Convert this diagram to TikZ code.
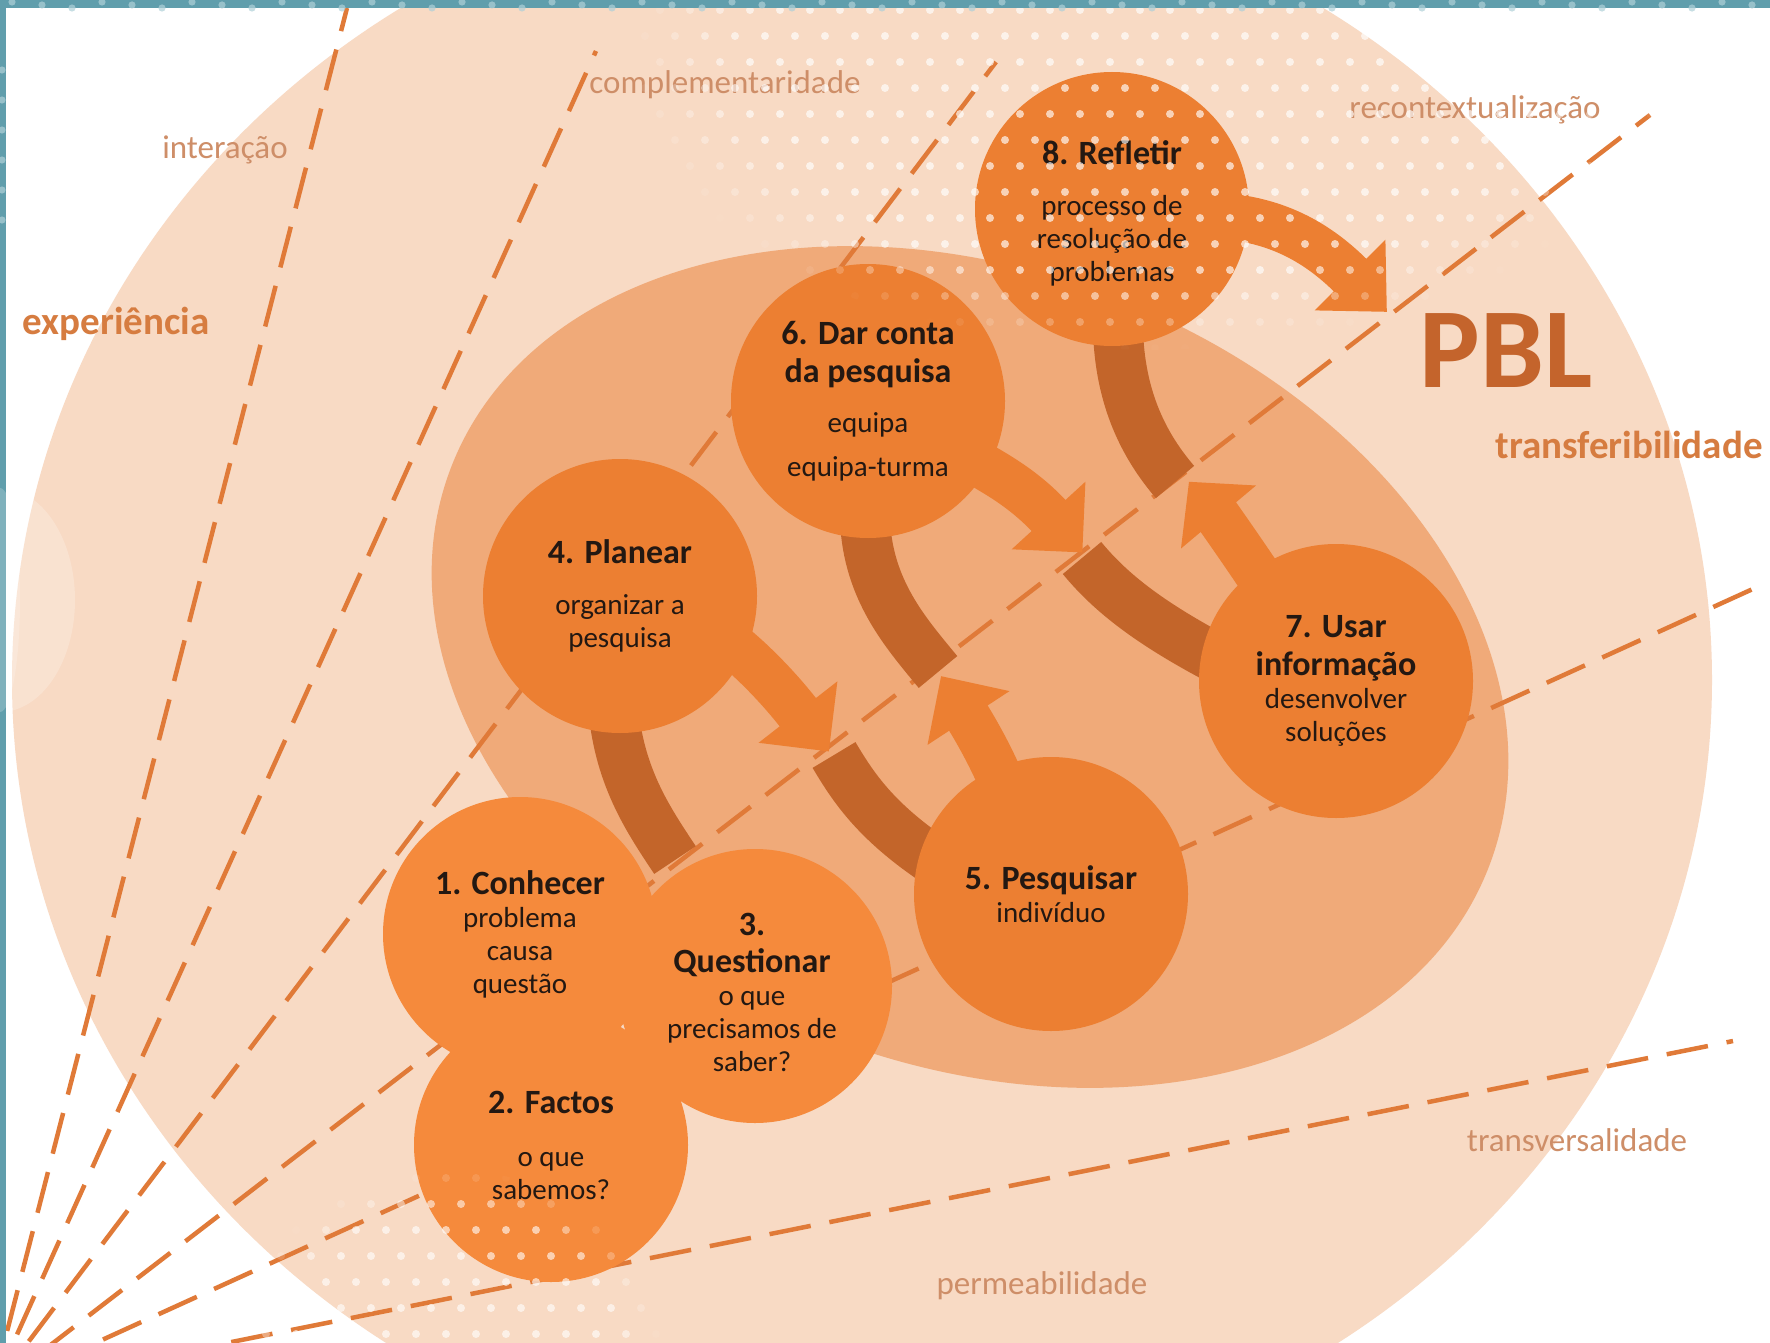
\documentclass[tikz,border=0pt]{standalone}
\usepackage{fontspec}
\setmainfont{Carlito}
\definecolor{framec}{RGB}{96,158,172}
\definecolor{framedot}{RGB}{175,208,216}
\definecolor{outerc}{RGB}{248,218,196}
\definecolor{innerc}{RGB}{240,170,121}
\definecolor{dashc}{RGB}{224,122,56}
\definecolor{circA}{RGB}{236,127,50}
\definecolor{circB}{RGB}{245,138,60}
\definecolor{bandc}{RGB}{195,101,42}
\definecolor{txtc}{RGB}{35,24,18}
\definecolor{lbllight}{RGB}{206,142,104}
\definecolor{lblbold}{RGB}{214,124,64}
\definecolor{pblc}{RGB}{196,100,44}
\newcommand\PTtl[1]{{\fontsize{34}{33}\selectfont\bfseries #1}}
\tikzset{
 dline/.style={draw=dashc, line width=4.5pt, dash pattern=on 42pt off 19pt},
 band/.style={draw=bandc, line width=50pt, line cap=butt},
 shaft/.style={draw=circA, line width=46pt, line cap=butt},
 ahead/.style={fill=circA},
 stepc/.style={circle, minimum size=274pt, inner sep=0pt, fill=circA},
 stepcb/.style={stepc, fill=circB},
 steptxt/.style={align=center, text=txtc, inner sep=0pt, font=\fontsize{29}{33}\selectfont},
 lbl/.style={inner sep=0pt, text=lbllight, font=\fontsize{33}{36}\selectfont},
 lblb/.style={inner sep=0pt, text=lblbold, font=\fontsize{39}{42}\selectfont\bfseries},
 pbl/.style={inner sep=0pt, text=pblc, font=\fontsize{114}{120}\selectfont\bfseries},
}
\begin{document}
\begin{tikzpicture}[x=1pt,y=-1pt]
\useasboundingbox (0,0) rectangle (1770,1343);
\fill[white] (0,0) rectangle (1770,1343);
% outer and inner fields
\fill[outerc] (862,680) ellipse [x radius=850, y radius=800];
\fill[white, opacity=0.22] (0,600) ellipse [x radius=75, y radius=112];
\fill[innerc, rotate around={-21:(970,667)}] (970,667) ellipse [x radius=556, y radius=397];

% dashed rays
\coordinate (O) at (-8,1390);
\coordinate (r1) at (1733,1041);
\coordinate (r2) at (1755,588);
\coordinate (r3) at (1650,115);
\coordinate (r4) at (996,62);
\coordinate (r5) at (596,51);
\coordinate (r6) at (347,8);
\foreach \r in {r1,r2,r3,r4,r5,r6} { \draw[dline] (O) -- (\r); }

% dark bands
\coordinate (b1s) at (612,690);  \coordinate (b1e) at (675,860);
\coordinate (b2s) at (834,755);  \coordinate (b2e) at (965,880);
\coordinate (b3s) at (865,520);  \coordinate (b3e) at (938,672);
\coordinate (b4s) at (1082,558); \coordinate (b4e) at (1235,668);
\coordinate (b5s) at (1118,330); \coordinate (b5e) at (1175,482);
\draw[band] (b1s) .. controls (615,770) and (645,815) .. (b1e);
\draw[band] (b2s) .. controls (855,790) and (880,830) .. (b2e);
\draw[band] (b3s) .. controls (868,590) and (905,632) .. (b3e);
\draw[band] (b4s) .. controls (1110,592) and (1150,625) .. (b4e);
\draw[band] (b5s) .. controls (1120,400) and (1145,447) .. (b5e);

% orange arrows
\draw[shaft] (705,625) .. controls (739,646) and (776,684) .. (800,715);
\fill[ahead] (837.4,681.3) -- (828.8,751.4) -- (758.6,742.8) -- cycle;
\draw[shaft] (1015,815) .. controls (1000,775) and (985,745) .. (966.5,715);
\fill[ahead] (1009.5,691.1) -- (941.1,676.2) -- (927.5,744.9) -- cycle;
\draw[shaft] (950,448) .. controls (990,470) and (1020,485) .. (1050.5,517.5);
\fill[ahead] (1085.4,481.7) -- (1082.3,552.4) -- (1011.7,549.3) -- cycle;
\draw[shaft] (1275,600) .. controls (1255,570) and (1238,545) .. (1216.5,514.5);
\fill[ahead] (1256,485.5) -- (1189,481.8) -- (1181,548.5) -- cycle;
\draw[shaft] (1200,215) .. controls (1270,215) and (1315,240) .. (1352,277);
\fill[ahead] (1385.4,239.6) -- (1386.8,311.8) -- (1314.6,310.4) -- cycle;

% step circles
\node[stepc] (c4) at (620,596) {};
\node[stepc] (c5) at (1051,894) {};
\node[stepc] (c6) at (868,401) {};
\node[stepc] (c7) at (1336,681) {};
\node[stepc] (c8) at (1112,209) {};
\node[stepcb] (c1) at (520,934) {};
\node[stepcb] (c3) at (755,986) {};
\node[stepcb] (c2) at (551,1145) {};

\node[steptxt] (t1) at (c1) {\PTtl{1. Conhecer}\\problema\\causa\\questão};
\node[steptxt] (t2) at (c2) {\PTtl{2. Factos}\\[20pt]o que\\sabemos?};
\node[steptxt] (t3) at (752,992) {\PTtl{3.}\\[4pt]\PTtl{Questionar}\\o que\\precisamos de\\saber?};
\node[steptxt] (t4) at (c4) {\PTtl{4. Planear}\\[18pt]organizar a\\pesquisa};
\node[steptxt] (t5) at (c5) {\PTtl{5. Pesquisar}\\indivíduo};
\node[steptxt] (t6) at (c6) {\PTtl{6. Dar conta}\\[5pt]\PTtl{da pesquisa}\\[17pt]equipa\\[11pt]equipa-turma};
\node[steptxt] (t7) at (c7) {\PTtl{7. Usar}\\[5pt]\PTtl{informação}\\desenvolver\\soluções};
\node[steptxt] (t8) at (1112,213) {\PTtl{8. Refletir}\\[18pt]processo de\\resolução de\\problemas};

% labels
\node[lbl] (lint) at (225,150) {interação};
\node[lbl] (lcomp) at (725,85) {complementaridade};
\node[lblb] (lexp) at (116,324) {experiência};
\node[lbl] (lrec) at (1475,110) {recontextualização};
\node[pbl, anchor=base] (lpbl) at (1506,387) {PBL};
\node[lblb] (ltrf) at (1629,445) {transferibilidade};
\node[lbl] (ltrv) at (1577,1140) {transversalidade};
\node[lbl] (lper) at (1042,1286) {permeabilidade};

% dot textures
\begin{scope}
\clip (1150,60) ellipse [x radius=520, y radius=290];
\foreach \j in {0,...,14} {
  \foreach \i in {0,...,35} {
    \pgfmathsetmacro\xx{630+30*\i+15*mod(\j,2)}
    \pgfmathsetmacro\yy{10+26*\j}
    \pgfmathsetmacro\qa{(\xx-1150)/520}
    \pgfmathsetmacro\qb{(\yy-60)/290}
    \pgfmathsetmacro\op{max(0,min(0.65,1.6*(1-\qa*\qa-\qb*\qb)))}
    \fill[white, opacity=\op] (\xx,\yy) circle [radius=4];
  }
}
\end{scope}
\begin{scope}
\clip (450,1345) ellipse [x radius=210, y radius=175];
\foreach \j in {0,...,7} {
  \foreach \i in {0,...,15} {
    \pgfmathsetmacro\xx{236+30*\i+15*mod(\j,2)}
    \pgfmathsetmacro\yy{1178+26*\j}
    \pgfmathsetmacro\qa{(\xx-450)/210}
    \pgfmathsetmacro\qb{(\yy-1345)/175}
    \pgfmathsetmacro\op{max(0,min(0.6,1.6*(1-\qa*\qa-\qb*\qb)))}
    \fill[white, opacity=\op] (\xx,\yy) circle [radius=4];
  }
}
\end{scope}

% frame
\fill[framec] (0,0) rectangle (1770,8);
\fill[framec] (0,0) rectangle (6,1343);
\fill[white, opacity=0.2] (0,600) ellipse [x radius=20, y radius=112];
\foreach \i in {0,...,58} {
  \fill[framedot, opacity=0.7] (12+30*\i,{2+3*mod(\i,3)}) circle [radius=3.6];
}
\foreach \j in {0,...,5} {
  \fill[framedot, opacity=0.7] (2,{70+30*\j}) circle [radius=3.6];
}
\end{tikzpicture}
\end{document}
